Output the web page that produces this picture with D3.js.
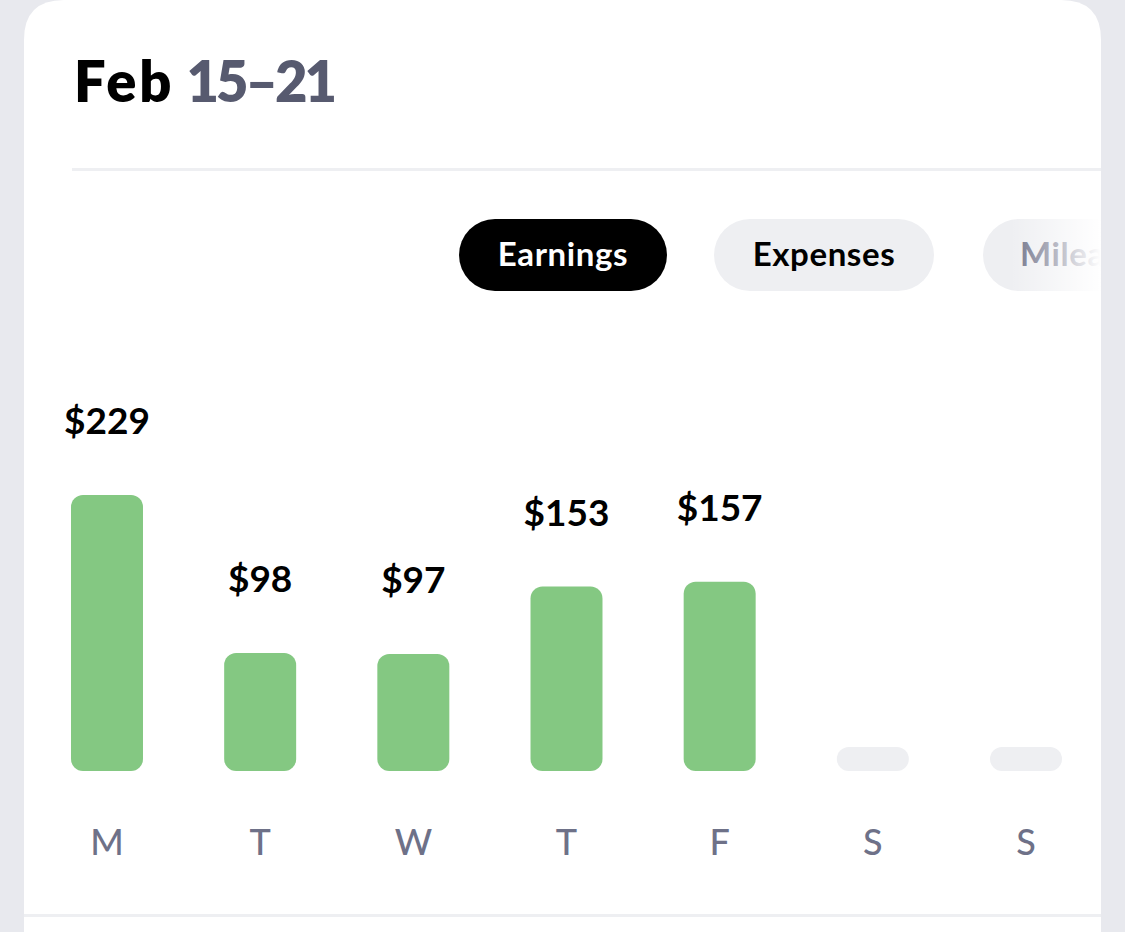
<!DOCTYPE html>
<html>
<head>
<meta charset="utf-8">
<script src="https://cdn.jsdelivr.net/npm/d3@7"></script>
<style>
  html, body { margin: 0; padding: 0; background: #e8e9ee; }
  svg { display: block; }
  text { font-family: Lato, "Noto Sans", sans-serif; }
</style>
</head>
<body>
<svg id="chart" width="1125" height="932"></svg>
<script>
// 数据
const days = ["M", "T", "W", "T", "F", "S", "S"];
const earnings = [229, 98, 97, 153, 157, null, null];
const tabs = ["Earnings", "Expenses", "Mileage"];
const titleMonth = "Feb";
const titleRange = "15–21";

const svg = d3.select("#chart");
const W = 1125, H = 932;

// 卡片背景
svg.append("path")
    .attr("fill", "#ffffff")
    .attr("d", "M24,40 Q24,0 64,0 L1061,0 Q1101,0 1101,40 L1101,932 L24,932 Z");

// 标题
const title = svg.append("text")
    .attr("x", 74)
    .attr("y", 102)
    .style("font-size", "56px")
    .style("font-weight", 800);
title.append("tspan").attr("fill", "#000").style("letter-spacing", "3px").text(titleMonth);
title.append("tspan").attr("fill", "#575a6f").attr("dx", 12).style("letter-spacing", "-3px").text(titleRange);

// 分隔线
svg.append("rect").attr("x", 72).attr("y", 168).attr("width", 1029).attr("height", 3).attr("fill", "#eeeff2");
svg.append("rect").attr("x", 24).attr("y", 914).attr("width", 1077).attr("height", 3).attr("fill", "#eeeff2");

// 标签按钮
const tabX = d3.scaleOrdinal().domain(tabs).range([459, 714, 983]);
const tabW = d3.scaleOrdinal().domain(tabs).range([208, 220, 220]);

const defs = svg.append("defs");
const fade = defs.append("linearGradient").attr("id", "fade").attr("x1", "0").attr("x2", "1");
fade.append("stop").attr("offset", "0").attr("stop-color", "#fff").attr("stop-opacity", 0);
fade.append("stop").attr("offset", "1").attr("stop-color", "#fff").attr("stop-opacity", 1);
defs.append("clipPath").attr("id", "cardClip")
    .append("rect").attr("x", 24).attr("y", 0).attr("width", 1077).attr("height", H);

const tabG = svg.append("g").attr("clip-path", "url(#cardClip)");
tabs.forEach((t, i) => {
    const g = tabG.append("g").attr("transform", `translate(${tabX(t)},219)`);
    g.append("rect")
        .attr("width", tabW(t))
        .attr("height", 72)
        .attr("rx", 36)
        .attr("fill", i === 0 ? "#000" : "#eeeff2");
    g.append("text")
        .attr("x", i === 2 ? 37 : tabW(t) / 2)
        .attr("y", 47)
        .attr("text-anchor", i === 2 ? "start" : "middle")
        .attr("fill", i === 0 ? "#fff" : (i === 1 ? "#000" : "#6e7188"))
        .style("font-size", "33px")
        .style("font-weight", 700)
        .style("letter-spacing", "0.6px")
        .text(t);
});
// 右侧渐隐
tabG.append("rect").attr("x", 1010).attr("y", 210).attr("width", 91).attr("height", 90).attr("fill", "url(#fade)");

// 比例尺
const x = d3.scaleBand()
    .domain(d3.range(days.length))
    .range([71, 1062])
    .paddingInner(0.53)
    .paddingOuter(0);

const y = d3.scaleLinear()
    .domain([0, d3.max(earnings)])
    .range([771, 495]);

const bars = svg.append("g");

// 柱子
bars.selectAll("rect.bar")
    .data(earnings.map((v, i) => ({ v, i })).filter(d => d.v != null))
    .join("rect")
    .attr("class", "bar")
    .attr("x", d => x(d.i))
    .attr("y", d => y(d.v))
    .attr("width", x.bandwidth())
    .attr("height", d => y(0) - y(d.v))
    .attr("rx", 12)
    .attr("fill", "#84c882");

// 空值占位
bars.selectAll("rect.empty")
    .data(earnings.map((v, i) => ({ v, i })).filter(d => d.v == null))
    .join("rect")
    .attr("class", "empty")
    .attr("x", d => x(d.i))
    .attr("y", y(0) - 24)
    .attr("width", x.bandwidth())
    .attr("height", 24)
    .attr("rx", 12)
    .attr("fill", "#eeeff2");

// 数值标签
bars.selectAll("text.val")
    .data(earnings.map((v, i) => ({ v, i })).filter(d => d.v != null))
    .join("text")
    .attr("class", "val")
    .attr("x", d => x(d.i) + x.bandwidth() / 2)
    .attr("y", d => y(d.v) - 61)
    .attr("text-anchor", "middle")
    .attr("fill", "#000")
    .style("font-size", "37px")
    .style("font-weight", 700)
    .text(d => "$" + d.v);

// 星期标签
svg.append("g")
    .attr("transform", "translate(0,855)")
    .call(d3.axisBottom(x).tickFormat(i => days[i]).tickSize(0).tickPadding(0))
    .call(g => g.select(".domain").remove())
    .selectAll("text")
    .attr("dy", 0)
    .attr("y", 0)
    .attr("fill", "#6e7188")
    .style("font-family", "Lato, 'Noto Sans', sans-serif")
    .style("font-size", "36px")
    .style("font-weight", 500);
</script>
</body>
</html>
